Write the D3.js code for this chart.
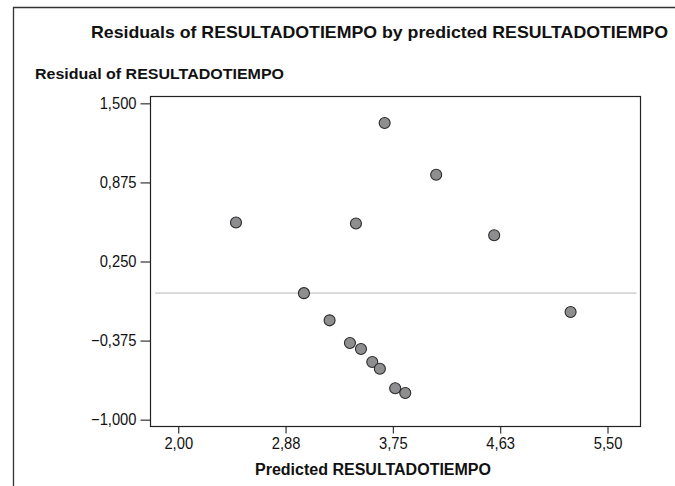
<!DOCTYPE html>
<html>
<head>
<meta charset="utf-8">
<script src="https://cdn.jsdelivr.net/npm/d3@7"></script>
<style>
  html, body { margin: 0; padding: 0; background: #fff; }
  svg { display: block; }
  text { font-family: "Liberation Sans", Arial, Helvetica, sans-serif; fill: #111; }
</style>
</head>
<body>
<svg id="chart" width="675" height="486"></svg>
<script>
// Predicted value and residual for each case
const predicted = [2.471, 3.449, 3.683, 4.103, 4.576, 5.199, 3.025, 3.234, 3.400, 3.490, 3.582, 3.644, 3.769, 3.851];
const residuals = [0.558, 0.550, 1.345, 0.936, 0.457, -0.149, 0.000, -0.215, -0.394, -0.441, -0.544, -0.597, -0.752, -0.789];

const xTicks = [2.0, 2.875, 3.75, 4.625, 5.5];
const yTicks = [-1.0, -0.375, 0.25, 0.875, 1.5];

const chartTitle = "Residuals of RESULTADOTIEMPO by predicted RESULTADOTIEMPO";
const yTitle = "Residual of RESULTADOTIEMPO";
const xTitle = "Predicted RESULTADOTIEMPO";

const svg = d3.select("#chart");

const plot = { left: 151, right: 640.5, top: 97, bottom: 426 };

const x = d3.scaleLinear().domain([1.778, 5.769]).range([plot.left, plot.right]);
const y = d3.scaleLinear().domain([-1.05, 1.55]).range([plot.bottom, plot.top]);

const locale = d3.formatLocale({ decimal: ",", thousands: ".", grouping: [3], currency: ["", ""], minus: "\u2212" });
const fmtX = locale.format(".2f");
const fmtY = locale.format(".3f");

// outer frame (top and left edges)
svg.append("path")
  .attr("d", "M13.5,486 V7.5 H675")
  .attr("fill", "none")
  .attr("stroke", "#333")
  .attr("stroke-width", 1.3);

// titles, squeezed to a condensed width
function fitText(sel, width) {
  sel.attr("textLength", width).attr("lengthAdjust", "spacingAndGlyphs");
}
svg.append("text")
  .attr("x", 91).attr("y", 38)
  .attr("font-size", 17).attr("font-weight", "bold")
  .text(chartTitle)
  .call(fitText, 577);

svg.append("text")
  .attr("x", 35).attr("y", 79)
  .attr("font-size", 14.5).attr("font-weight", "bold")
  .text(yTitle)
  .call(fitText, 249);

svg.append("text")
  .attr("x", 255).attr("y", 474.5)
  .attr("font-size", 16).attr("font-weight", "bold")
  .text(xTitle)
  .call(fitText, 236);

// zero reference line
svg.append("line")
  .attr("x1", plot.left + 4).attr("x2", plot.right - 4)
  .attr("y1", y(0)).attr("y2", y(0))
  .attr("stroke", "#d6d6d6")
  .attr("stroke-width", 1.6);

// axes
function styleTickText(g) {
  g.selectAll("text")
    .attr("font-size", 16)
    .attr("font-family", "'Liberation Sans', Arial, sans-serif")
    .attr("fill", "#111")
    .each(function () {
      const len = this.getComputedTextLength();
      d3.select(this).attr("textLength", len * 0.92).attr("lengthAdjust", "spacingAndGlyphs");
    });
}

const yAxis = d3.axisLeft(y).tickValues(yTicks).tickFormat(fmtY).tickSize(10).tickSizeOuter(0).tickPadding(4);
const gy = svg.append("g").attr("transform", `translate(${plot.left - 0.5},0)`).call(yAxis);
gy.select(".domain").remove();
gy.selectAll("line").attr("stroke", "#333").attr("stroke-width", 1.2);
styleTickText(gy);

const xAxis = d3.axisBottom(x).tickValues(xTicks).tickFormat(fmtX).tickSize(7).tickSizeOuter(0).tickPadding(4);
const gx = svg.append("g").attr("transform", `translate(0,${plot.bottom + 0.5})`).call(xAxis);
gx.select(".domain").remove();
gx.selectAll("line").attr("stroke", "#333").attr("stroke-width", 1.2);
styleTickText(gx);

// plot border
svg.append("rect")
  .attr("x", plot.left - 0.5).attr("y", plot.top - 0.5)
  .attr("width", plot.right - plot.left + 0.5).attr("height", plot.bottom - plot.top + 1)
  .attr("fill", "none")
  .attr("stroke", "#222")
  .attr("stroke-width", 1.2);

// points
svg.append("g").selectAll("circle")
  .data(predicted.map((p, i) => ({ p, r: residuals[i] })))
  .join("circle")
  .attr("cx", d => x(d.p))
  .attr("cy", d => y(d.r))
  .attr("r", 5.5)
  .attr("fill", "#8e8e90")
  .attr("stroke", "#2a2a2a")
  .attr("stroke-width", 1.1);
</script>
</body>
</html>
